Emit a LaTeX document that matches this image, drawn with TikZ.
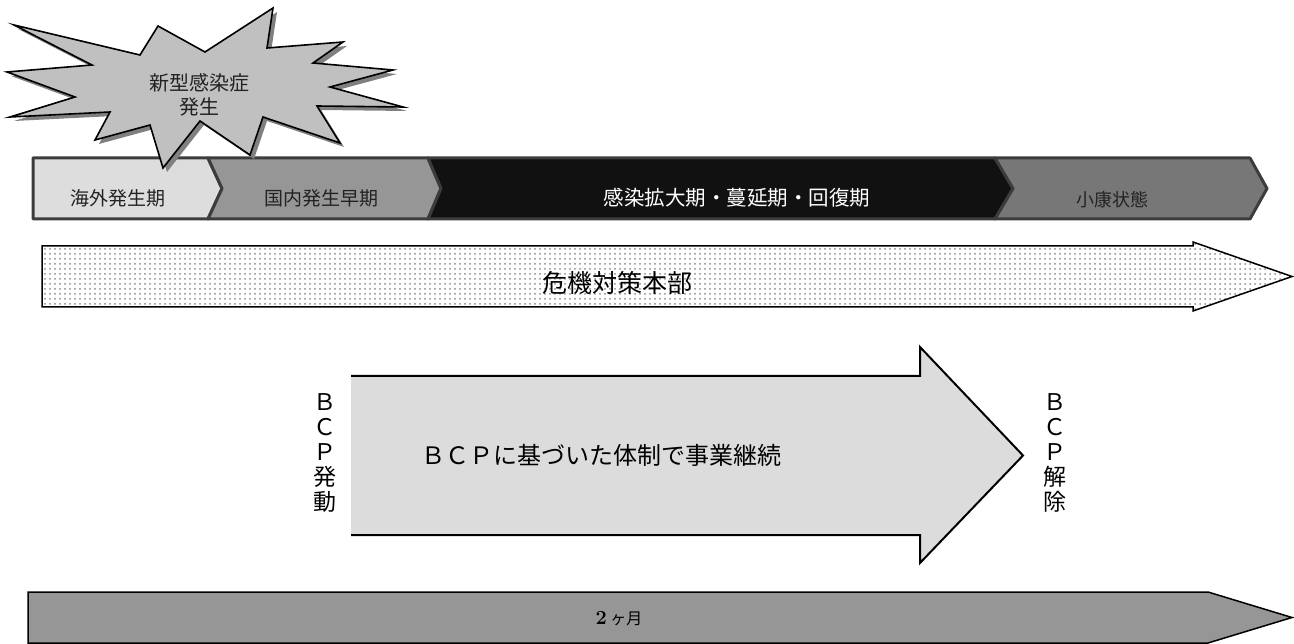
\documentclass[tikz,border=0pt]{standalone}
\usepackage{fontspec}
\newfontfamily\jp{Noto Sans CJK JP}
\usetikzlibrary{patterns.meta}
\definecolor{segA}{HTML}{DDDDDD}
\definecolor{segB}{HTML}{969696}
\definecolor{segC}{HTML}{111111}
\definecolor{segD}{HTML}{777777}
\definecolor{segline}{HTML}{3C3C3C}
\definecolor{starfill}{HTML}{C0C0C0}
\definecolor{starshadow}{HTML}{808080}
\definecolor{bcpfill}{HTML}{DCDCDC}
\definecolor{txtdark}{HTML}{222222}
\tikzset{
  phase/.style={line width=3pt, draw=segline, line join=round},
  phasetext/.style={font=\jp\fontsize{19}{22}\selectfont, text=txtdark, inner sep=0pt},
  vtext/.style={font=\jp\fontsize{23}{25}\selectfont, align=center, inner sep=0pt},
}
\begin{document}
\begin{tikzpicture}[x=1pt,y=-1pt]
\useasboundingbox (0,0) rectangle (1294,644);
% phase bar
\draw[phase, fill=segA] (33,158) -- (208,158) -- (222,188.5) -- (208,219) -- (33,219) -- cycle;
\draw[phase, fill=segB] (208,158) -- (428,158) -- (441,188.5) -- (428,219) -- (208,219) -- (222,188.5) -- cycle;
\draw[phase, fill=segC] (428,158) -- (995,158) -- (1013,188.5) -- (995,219) -- (428,219) -- (441,188.5) -- cycle;
\draw[phase, fill=segD] (995,158) -- (1250,158) -- (1267,188.5) -- (1250,219) -- (995,219) -- (1013,188.5) -- cycle;
\node[phasetext] (p1) at (118,198) {海外発生期};
\node[phasetext] (p2) at (321,198) {国内発生早期};
\node[phasetext, text=white, font=\jp\fontsize{20.5}{22}\selectfont] (p3) at (737,198) {感染拡大期・蔓延期・回復期};
\node[phasetext, font=\jp\fontsize{18}{22}\selectfont] (p4) at (1112,200) {小康状態};
% star
\def\starpath{(14,25) -- (92,65) -- (7,72) -- (75,97) -- (10,117) -- (110,112) -- (95,140) -- (150,125) -- (163,168) -- (200,121) -- (250,155) -- (263,117) -- (340,143) -- (317,106) -- (403,107) -- (330,87) -- (393,70) -- (313,63) -- (343,42) -- (267,48) -- (273,8) -- (205,52) -- (158,26) -- (140,55) -- cycle}
\fill[starshadow, shift={(4,4)}] \starpath;
\draw[line width=1.6pt, fill=starfill, line join=miter] \starpath;
\node[font=\jp\fontsize{20}{24}\selectfont, text=txtdark, align=center, inner sep=0pt] (star) at (199,95) {新型感染症\\発生};
% crisis arrow
\draw[line width=1.5pt, pattern={Dots[distance=5pt,radius=1pt]}, pattern color=gray!90]
  (42,246) -- (1193,246) -- (1193,242) -- (1292,276.5) -- (1193,311) -- (1193,307) -- (42,307) -- cycle;
\node[font=\jp\fontsize{25}{28}\selectfont, inner sep=0pt] (crisis) at (617,283) {危機対策本部};
% BCP arrow
\fill[bcpfill] (351,376) -- (920,376) -- (920,347) -- (1023,455.5) -- (920,563) -- (920,535) -- (351,535) -- cycle;
\draw[line width=2pt, line join=miter] (351,376) -- (920,376) -- (920,347) -- (1023,455.5) -- (920,563) -- (920,535) -- (351,535);
\node[font=\jp\fontsize{24}{28}\selectfont, inner sep=0pt] (bcp) at (601,455) {ＢＣＰに基づいた体制で事業継続};
\node[vtext] (start) at (325,453) {Ｂ\\Ｃ\\Ｐ\\発\\動};
\node[vtext] (stop) at (1055,453) {Ｂ\\Ｃ\\Ｐ\\解\\除};
% duration arrow
\draw[line width=1.5pt, fill=segB, line join=miter] (28,592) -- (1208,592) -- (1292,617.5) -- (1208,643) -- (28,643) -- cycle;
\node[inner sep=0pt] (dur) at (619,619) {\fontsize{20}{22}\selectfont\bfseries 2\,{\jp\mdseries\fontsize{16}{20}\selectfont ヶ月}};
\end{tikzpicture}
\end{document}
